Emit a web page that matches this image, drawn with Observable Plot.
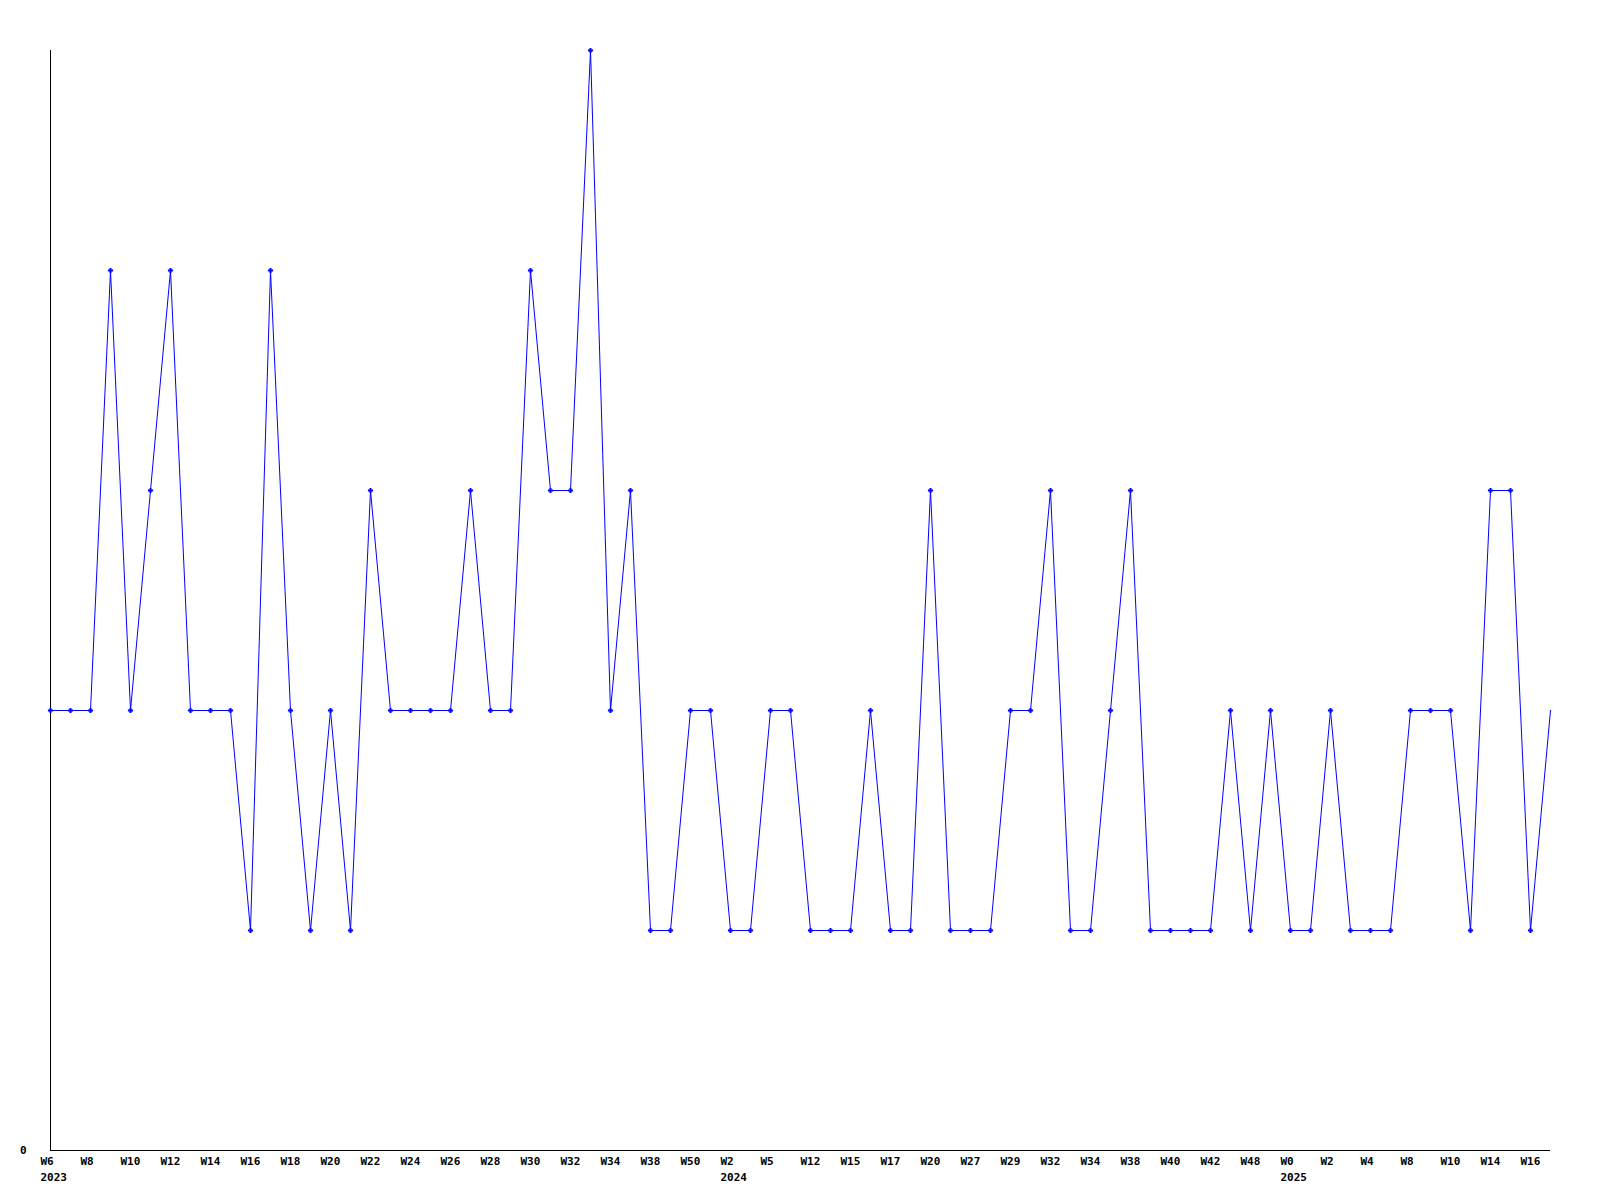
<!DOCTYPE html>
<html>
<head>
<meta charset="utf-8">
<script src="https://cdn.jsdelivr.net/npm/d3@7"></script>
<script src="https://cdn.jsdelivr.net/npm/@observablehq/plot@0.6"></script>
<style>
  html, body { margin: 0; padding: 0; background: #fff; }
  #chart svg { display: block; }
</style>
</head>
<body>
<div id="chart"></div>
<script>
// Weekly series values (one per week point, in order)
const values = [
  2, 2, 2, 4, 2, 3, 4, 2, 2, 2,
  1, 4, 2, 1, 2, 1, 3, 2, 2, 2,
  2, 3, 2, 2, 4, 3, 3, 5, 2, 3,
  1, 1, 2, 2, 1, 1, 2, 2, 1, 1,
  1, 2, 1, 1, 3, 1, 1, 1, 2, 2,
  3, 1, 1, 2, 3, 1, 1, 1, 1, 2,
  1, 2, 1, 1, 2, 1, 1, 1, 2, 2,
  2, 1, 3, 3, 1, 2
];

// Tick labels shown on every other point
const tickLabels = [
  "W6", "W8", "W10", "W12", "W14", "W16", "W18", "W20", "W22", "W24",
  "W26", "W28", "W30", "W32", "W34", "W38", "W50", "W2", "W5", "W12",
  "W15", "W17", "W20", "W27", "W29", "W32", "W34", "W38", "W40", "W42",
  "W48", "W0", "W2", "W4", "W8", "W10", "W14", "W16"
];

// Year labels and the tick label they sit under (index into tickLabels)
const yearLabels = ["2023", "2024", "2025"];
const yearTickIndex = [0, 17, 31];

const data = values.map((v, i) => ({i, v}));
const tickPositions = tickLabels.map((_, k) => k * 2);
const labelByPos = new Map(tickPositions.map((p, k) => [p, tickLabels[k]]));
const years = yearLabels.map((y, k) => ({i: tickPositions[yearTickIndex[k]], label: y}));

const font = "'DejaVu Sans Mono', 'Liberation Mono', monospace";

const chart = Plot.plot({
  width: 1600,
  height: 1200,
  marginLeft: 50,
  marginRight: 50,
  marginTop: 50,
  marginBottom: 50,
  style: {fontFamily: font, fontSize: "11px", fontWeight: "bold", color: "#000", background: "#fff"},
  x: {domain: [0, values.length - 1]},
  y: {domain: [0, 5]},
  marks: [
    Plot.axisX({
      ticks: tickPositions,
      tickFormat: d => labelByPos.get(d),
      tickSize: 0,
      tickPadding: 7,
      textAnchor: "start",
      dx: -10,
      fill: "#000",
      fontWeight: "bold",
      label: null
    }),
    Plot.axisY({
      ticks: [0],
      tickFormat: d => String(d),
      tickSize: 0,
      tickPadding: 24,
      fill: "#000",
      fontWeight: "bold",
      label: null
    }),
    Plot.text(years, {
      x: "i", y: () => 0, text: "label",
      textAnchor: "start", dx: -10, dy: 27,
      fill: "#000", fontWeight: "bold", fontSize: 11
    }),
    Plot.ruleX([0], {stroke: "#000", strokeWidth: 1}),
    Plot.ruleY([0], {stroke: "#000", strokeWidth: 1}),
    Plot.line(data, {x: "i", y: "v", stroke: "#0000ff", strokeWidth: 1}),
    Plot.dot(data.slice(0, -1), {x: "i", y: "v", symbol: "plus", r: 1.8, stroke: "#0000ff", strokeWidth: 2})
  ]
});

document.getElementById("chart").appendChild(chart);
</script>
</body>
</html>
